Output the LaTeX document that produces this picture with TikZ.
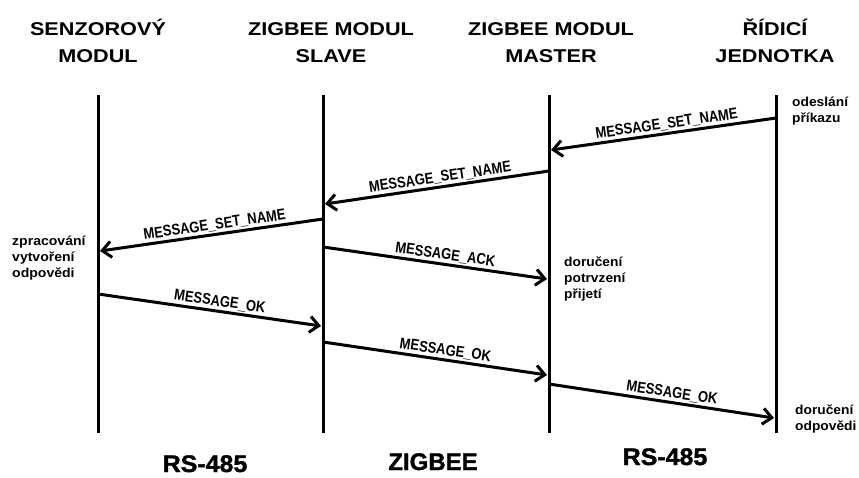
\documentclass[tikz,border=0pt]{standalone}
\usepackage{fontspec}
\usepackage{graphicx}
\setmainfont{Liberation Sans}
\newfontfamily\heavyfont[BoldFeatures={FakeBold=1.5}]{Liberation Sans}
\usetikzlibrary{arrows.meta}
\begin{document}
\begin{tikzpicture}[x=1pt,y=-1pt,
  life/.style={line width=3pt},
  msg/.style={line width=3pt},
  tipend/.style={-{Straight Barb[length=9pt,width=16pt]}},
  tipstart/.style={{Straight Barb[length=9pt,width=16pt]}-},
  lbl/.style={sloped, above, inner sep=1.5pt, font=\fontsize{15.5}{18}\selectfont\bfseries},
  hdr/.style={anchor=base, inner sep=0pt, font=\fontsize{18.5}{27}\selectfont\bfseries},
  side/.style={anchor=base west, inner sep=0pt, font=\fontsize{13}{16}\selectfont\bfseries},
  bus/.style={anchor=base, inner sep=0pt, font=\fontsize{24}{30}\selectfont\heavyfont\bfseries}]
\useasboundingbox (0,0) rectangle (859,477);
% headers
\node[hdr] (h1) at (98,35) {\scalebox{1.17}[1]{\begin{tabular}[t]{@{}c@{}}SENZOROVÝ\\MODUL\end{tabular}}};
\node[hdr] (h2) at (331,35) {\scalebox{1.17}[1]{\begin{tabular}[t]{@{}c@{}}ZIGBEE MODUL\\SLAVE\end{tabular}}};
\node[hdr] (h3) at (551,35) {\scalebox{1.17}[1]{\begin{tabular}[t]{@{}c@{}}ZIGBEE MODUL\\MASTER\end{tabular}}};
\node[hdr] (h4) at (775,35) {\scalebox{1.17}[1]{\begin{tabular}[t]{@{}c@{}}ŘÍDICÍ\\JEDNOTKA\end{tabular}}};
% lifelines
\coordinate (s1) at (98,95);  \coordinate (e1) at (98,433);
\coordinate (s2) at (323,95); \coordinate (e2) at (323,433);
\coordinate (s3) at (549,95); \coordinate (e3) at (549,433);
\coordinate (s4) at (776,95); \coordinate (e4) at (776,433);
\draw[life] (s1) -- (e1);
\draw[life] (s2) -- (e2);
\draw[life] (s3) -- (e3);
\draw[life] (s4) -- (e4);
% message end points
\coordinate (a1s) at (776,118); \coordinate (a1e) at (551,150);
\coordinate (a2s) at (549,171); \coordinate (a2e) at (325,204);
\coordinate (a3s) at (323,219); \coordinate (a3e) at (100,251);
\coordinate (a4s) at (323,247); \coordinate (a4e) at (547,279);
\coordinate (a5s) at (98,294);  \coordinate (a5e) at (321,326);
\coordinate (a6s) at (323,342); \coordinate (a6e) at (547,375);
\coordinate (a7s) at (549,384); \coordinate (a7e) at (774,418);
% messages
\draw[msg,tipstart] (a1e) -- node[lbl,pos=0.52] (m1) {\scalebox{0.84}[1]{MESSAGE\_SET\_NAME}} (a1s);
\draw[msg,tipstart] (a2e) -- node[lbl,pos=0.52] (m2) {\scalebox{0.84}[1]{MESSAGE\_SET\_NAME}} (a2s);
\draw[msg,tipstart] (a3e) -- node[lbl,pos=0.52] (m3) {\scalebox{0.84}[1]{MESSAGE\_SET\_NAME}} (a3s);
\draw[msg,tipend] (a4s) -- node[lbl,pos=0.54] (m4) {\scalebox{0.84}[1]{MESSAGE\_ACK}} (a4e);
\draw[msg,tipend] (a5s) -- node[lbl,pos=0.54] (m5) {\scalebox{0.84}[1]{MESSAGE\_OK}} (a5e);
\draw[msg,tipend] (a6s) -- node[lbl,pos=0.54] (m6) {\scalebox{0.84}[1]{MESSAGE\_OK}} (a6e);
\draw[msg,tipend] (a7s) -- node[lbl,pos=0.54] (m7) {\scalebox{0.84}[1]{MESSAGE\_OK}} (a7e);
% side notes
\node[side] (n1) at (792,106) {\scalebox{1.06}[1]{\begin{tabular}[t]{@{}l@{}}odeslání\\příkazu\end{tabular}}};
\node[side] (n2) at (12,245) {\scalebox{1.08}[1]{\begin{tabular}[t]{@{}l@{}}zpracování\\vytvoření\\odpovědi\end{tabular}}};
\node[side] (n3) at (564,266) {\scalebox{1.06}[1]{\begin{tabular}[t]{@{}l@{}}doručení\\potrvzení\\přijetí\end{tabular}}};
\node[side] (n4) at (795,414) {\scalebox{1.06}[1]{\begin{tabular}[t]{@{}l@{}}doručení\\odpovědi\end{tabular}}};
% bus labels
\node[bus] (b1) at (205,472) {\scalebox{1.04}[1]{RS-485}};
\node[bus] (b2) at (433,470) {\scalebox{1.0}[1]{ZIGBEE}};
\node[bus] (b3) at (665,465) {\scalebox{1.04}[1]{RS-485}};
\end{tikzpicture}
\end{document}
